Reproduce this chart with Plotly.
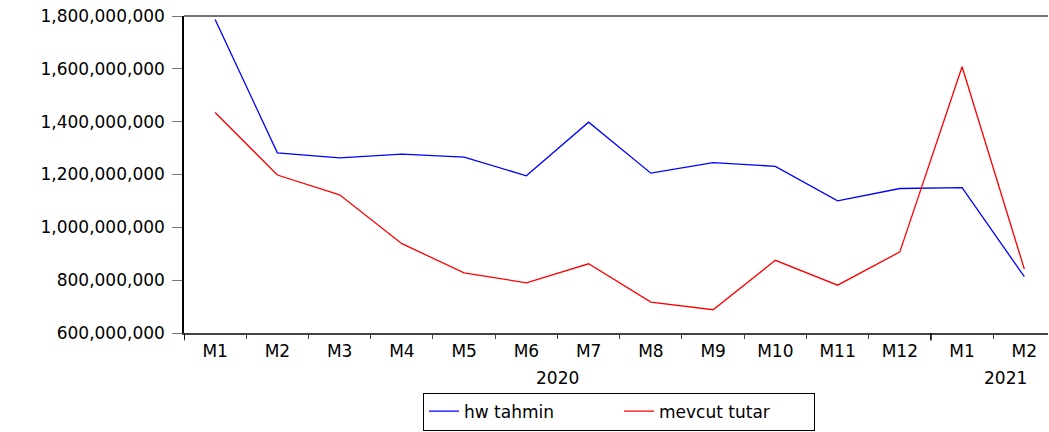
import plotly.graph_objects as go

months = ["M1", "M2", "M3", "M4", "M5", "M6", "M7", "M8", "M9", "M10", "M11", "M12", "M1", "M2"]
years = ["2020"] * 12 + ["2021"] * 2
hw_tahmin = [1787e6, 1282e6, 1263e6, 1277e6, 1266e6, 1195e6, 1398e6, 1205e6, 1245e6, 1231e6, 1100e6, 1147e6, 1150e6, 813e6]
mevcut_tutar = [1435e6, 1198e6, 1123e6, 938e6, 828e6, 790e6, 862e6, 717e6, 688e6, 875e6, 781e6, 907e6, 1608e6, 842e6]
y_ticks = [600e6, 800e6, 1000e6, 1200e6, 1400e6, 1600e6, 1800e6]

idx = list(range(len(months)))
FONT = "DejaVu Sans"
FS = 17
W, H = 1049, 432

fig = go.Figure()
fig.add_trace(go.Scatter(x=idx, y=hw_tahmin, mode="lines", name="hw tahmin",
                         line=dict(color="#0000FF", width=1.3)))
fig.add_trace(go.Scatter(x=idx, y=mevcut_tutar, mode="lines", name="mevcut tutar",
                         line=dict(color="#FF0000", width=1.3)))

fig.update_layout(
    width=W, height=H,
    margin=dict(l=184, r=1, t=16, b=99),
    paper_bgcolor="white", plot_bgcolor="white",
    font=dict(family=FONT, size=FS, color="black"),
    showlegend=True,
    legend=dict(orientation="h", xref="container", yref="container",
                x=619 / W, xanchor="center", y=1.5 / H, yanchor="bottom",
                bordercolor="black", borderwidth=1, font=dict(size=17),
                entrywidth=150, entrywidthmode="pixels", tracegroupgap=0),
)

fig.update_xaxes(
    range=[-0.5, 13.38], tickmode="array", tickvals=idx, ticktext=months,
    ticks="", showgrid=False, zeroline=False,
    showline=True, linecolor="#444444", linewidth=1.5,
    tickfont=dict(size=FS), ticklabelstandoff=2,
    minor=dict(tickmode="array", tickvals=[i - 0.5 for i in idx] + [13.5],
               ticks="outside", ticklen=4, tickcolor="#444444", tickwidth=1, showgrid=False),
)
fig.update_yaxes(
    range=[600e6, 1800e6], tickmode="array", tickvals=y_ticks,
    ticktext=[f"{v:,.0f}" for v in y_ticks],
    ticks="outside", ticklen=10, tickcolor="#777777", tickwidth=1,
    showgrid=False, zeroline=False,
    showline=True, linecolor="black", linewidth=1.5,
    tickfont=dict(size=FS), ticklabelstandoff=4,
)

# top frame line
fig.add_shape(type="line", xref="paper", yref="paper", x0=0, x1=1, y0=1, y1=1,
              line=dict(color="#444444", width=1.5))
# longer ticks at year boundaries
for xb in [-0.5, 11.5]:
    fig.add_shape(type="line", xref="x", yref="paper", x0=xb, x1=xb, y0=0, y1=-0.024,
                  line=dict(color="black", width=1.5))

# year labels
fig.add_annotation(x=5.5, xref="x", y=-0.142, yref="paper", yanchor="middle",
                   text="2020", showarrow=False, font=dict(size=FS))
fig.add_annotation(x=12.7, xref="x", y=-0.142, yref="paper", yanchor="middle",
                   text="2021", showarrow=False, font=dict(size=FS))

# remove the browser's default 8px page margin so the figure sits at (0, 0)
fig.write_html("out.html", config={"displayModeBar": False},
               post_script="document.body.style.margin='0';")
